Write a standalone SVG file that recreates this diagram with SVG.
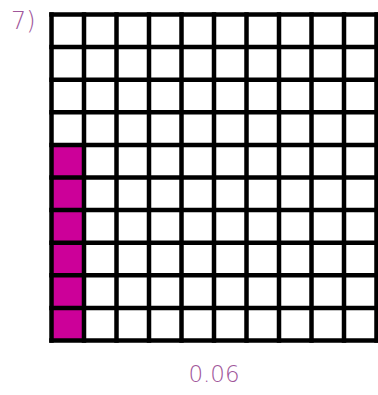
<svg xmlns="http://www.w3.org/2000/svg" width="378" height="395" viewBox="0 0 378 395">
<style>
.lbl{font-family:"DejaVu Sans","Liberation Sans",sans-serif;fill:#a0569a;font-weight:300}
.g line{stroke:#000;stroke-width:4.5;stroke-linecap:square}
.pk{fill:#cc0099}
</style>
<rect width="378" height="395" fill="#fff"/>
<g id="label-7"><text class="lbl" x="11" y="29" font-size="24">7)</text></g>
<g id="shaded"><rect class="pk" x="51.5" y="144.9" width="32.5" height="195.6"/></g>
<g id="grid" class="g">
<line x1="51.5" y1="14.5" x2="51.5" y2="340.5"/>
<line x1="84" y1="14.5" x2="84" y2="340.5"/>
<line x1="116.5" y1="14.5" x2="116.5" y2="340.5"/>
<line x1="149" y1="14.5" x2="149" y2="340.5"/>
<line x1="181.5" y1="14.5" x2="181.5" y2="340.5"/>
<line x1="214" y1="14.5" x2="214" y2="340.5"/>
<line x1="246.5" y1="14.5" x2="246.5" y2="340.5"/>
<line x1="279" y1="14.5" x2="279" y2="340.5"/>
<line x1="311.5" y1="14.5" x2="311.5" y2="340.5"/>
<line x1="344" y1="14.5" x2="344" y2="340.5"/>
<line x1="376.5" y1="14.5" x2="376.5" y2="340.5"/>
<line x1="51.5" y1="14.5" x2="376.5" y2="14.5"/>
<line x1="51.5" y1="47.1" x2="376.5" y2="47.1"/>
<line x1="51.5" y1="79.7" x2="376.5" y2="79.7"/>
<line x1="51.5" y1="112.3" x2="376.5" y2="112.3"/>
<line x1="51.5" y1="144.9" x2="376.5" y2="144.9"/>
<line x1="51.5" y1="177.5" x2="376.5" y2="177.5"/>
<line x1="51.5" y1="210.1" x2="376.5" y2="210.1"/>
<line x1="51.5" y1="242.7" x2="376.5" y2="242.7"/>
<line x1="51.5" y1="275.3" x2="376.5" y2="275.3"/>
<line x1="51.5" y1="307.9" x2="376.5" y2="307.9"/>
<line x1="51.5" y1="340.5" x2="376.5" y2="340.5"/>
</g>
<g id="label-value"><text class="lbl" x="214" y="382" font-size="23" text-anchor="middle">0.06</text></g>
</svg>
